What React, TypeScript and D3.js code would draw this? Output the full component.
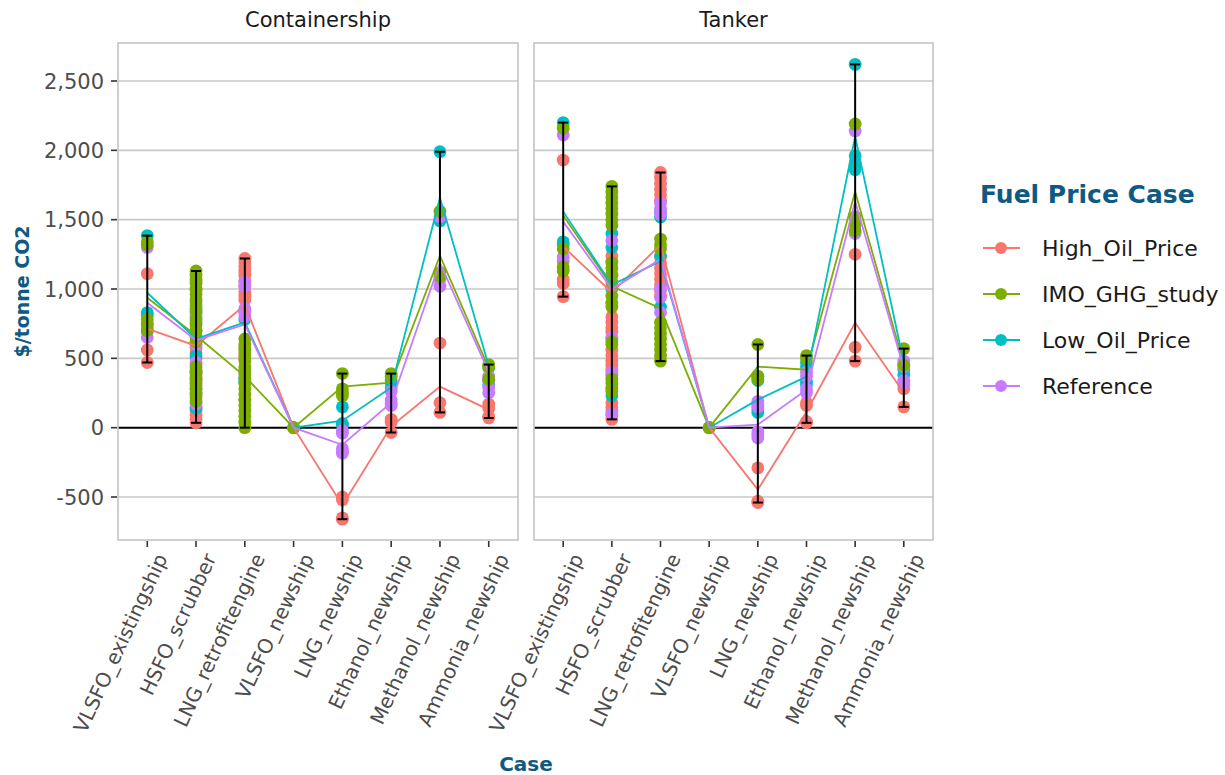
import * as d3 from 'd3';

const categories = ['VLSFO_existingship', 'HSFO_scrubber', 'LNG_retrofitengine', 'VLSFO_newship', 'LNG_newship', 'Ethanol_newship', 'Methanol_newship', 'Ammonia_newship'];
const priceCases = ['High_Oil_Price', 'IMO_GHG_study', 'Low_Oil_Price', 'Reference'];
const caseColors = ['#F8766D', '#7CAE00', '#00BFC4', '#C77CFF'];
const yTicks = [-500, 0, 500, 1000, 1500, 2000, 2500];

// Containership
const containerHighPoints = [
  [1110, 720, 560, 470],
  [1050, 990, 580, 540, 500, 460, 420, 380, 340, 300, 150, 120, 90, 60, 35],
  [1220, 1190, 1160, 1130, 1100, 1060, 1020, 980, 950, 920, 580, 540, 500],
  [0],
  [-500, -520, -650, -660],
  [60, 40, -35],
  [610, 180, 110],
  [170, 140, 80, 70],
];
const containerHighMean = [714, 590, 885, 0, -560, 10, 296, 130];

const containerImoPoints = [
  [1340, 1320, 780, 750, 700],
  [1130, 1100, 1070, 1040, 1000, 960, 920, 880, 840, 780, 740, 700, 660, 620, 440, 400, 360, 320, 280, 250, 220, 190],
  [640, 600, 560, 520, 480, 440, 400, 360, 320, 280, 240, 200, 160, 120, 80, 40, 0],
  [0],
  [390, 280, 250, 230],
  [390, 370],
  [1560, 1120, 1090],
  [455, 440, 350],
];
const containerImoMean = [937, 665, 370, 0, 296, 325, 1240, 430];

const containerLowPoints = [
  [1385, 830, 810],
  [860, 800, 700, 620, 520, 400, 280, 140],
  [840, 780, 350, 330],
  [0],
  [150, 30, 20],
  [340, 320, 280],
  [1990, 1490],
  [430, 340, 310],
];
const containerLowMean = [973, 640, 760, 0, 50, 290, 1658, 445];

const containerRefPoints = [
  [1300, 740, 690, 650],
  [900, 820, 760, 600, 470, 350, 240, 170],
  [1050, 1020, 860, 830, 800, 420, 380, 200],
  [0],
  [-20, -40, -150, -175, -185],
  [260, 200, 170, 160],
  [1520, 1070, 1020],
  [370, 340, 290, 250],
];
const containerRefMean = [901, 630, 745, 0, -123, 180, 1190, 400];

// Tanker
const tankerHighPoints = [
  [1930, 1070, 1040, 945],
  [1240, 1200, 800, 760, 720, 690, 560, 520, 480, 450, 420, 180, 150, 120, 90, 60],
  [1840, 1800, 1760, 1720, 1680, 1640, 1230, 1190, 1150, 1110, 1070, 1030, 990, 950],
  [0],
  [-290, -530, -540],
  [180, 160, 45, 35],
  [1250, 580, 480],
  [310, 280, 150],
];
const tankerHighMean = [1306, 975, 1320, 0, -447, 115, 757, 252];

const tankerImoPoints = [
  [2160, 1290, 1160, 1130],
  [1740, 1700, 1660, 1620, 1580, 1540, 1500, 1460, 1190, 1150, 1100, 1050, 950, 900, 870, 620, 600, 350, 320, 290, 260],
  [1360, 1320, 1290, 760, 720, 680, 640, 600, 560, 520, 480],
  [0],
  [600, 370, 350],
  [520, 500],
  [2190, 1520, 1480, 1420],
  [570, 450],
];
const tankerImoMean = [1530, 1020, 860, 0, 440, 418, 1703, 460];

const tankerLowPoints = [
  [2200, 1340, 1320],
  [1400, 1300, 1000, 640, 380, 230],
  [1560, 1520, 1240, 870],
  [0],
  [370, 340, 160, 130, 110],
  [470, 440, 330, 310],
  [2620, 1960, 1900, 1860],
  [460, 420, 380],
];
const tankerLowMean = [1558, 1030, 1200, 0, 202, 368, 2100, 470];

const tankerRefPoints = [
  [2110, 1230, 1200],
  [1350, 1100, 1020, 900, 650, 400, 280, 100],
  [1620, 1580, 1540, 1000, 940, 830],
  [0],
  [190, 150, -30, -50, -75],
  [400, 370, 280, 250],
  [2140, 1460, 1400],
  [480, 440, 340, 320],
];
const tankerRefMean = [1486, 1000, 1215, 0, 22, 274, 1631, 430];

const panels = [
  {
    title: 'Containership',
    x0: 118, x1: 518,
    points: [containerHighPoints, containerImoPoints, containerLowPoints, containerRefPoints],
    means: [containerHighMean, containerImoMean, containerLowMean, containerRefMean],
  },
  {
    title: 'Tanker',
    x0: 534, x1: 933,
    points: [tankerHighPoints, tankerImoPoints, tankerLowPoints, tankerRefPoints],
    means: [tankerHighMean, tankerImoMean, tankerLowMean, tankerRefMean],
  },
];

const top = 43;
const bottom = 540;
const font = 'DejaVu Sans, sans-serif';
const titleColor = '#0f5a82';
// draw order of the dots: IMO last so it sits on top
const dotOrder = [0, 2, 3, 1];

const y = d3.scaleLinear().domain([-810, 2774]).range([bottom, top]);
const fmt = (v: number) => d3.format(',')(v).replace('\u2212', '-');

const Panel = ({ p, first }) => {
  const x = d3.scalePoint().domain(categories).range([p.x0, p.x1]).padding(0.6);
  const line = d3.line<number>().x((_, i) => x(categories[i])!).y(d => y(d));
  return (
    <g>
      <text x={(p.x0 + p.x1) / 2} y={27} textAnchor="middle" fontSize={21} fill="#1a1a1a" fontFamily={font}>{p.title}</text>
      <rect x={p.x0} y={top} width={p.x1 - p.x0} height={bottom - top} fill="white" />
      {yTicks.filter(t => t !== 0).map(t => (
        <line key={t} x1={p.x0} x2={p.x1} y1={y(t)} y2={y(t)} stroke="#c9c9c9" strokeWidth={1.6} />
      ))}
      <line x1={p.x0} x2={p.x1} y1={y(0)} y2={y(0)} stroke="black" strokeWidth={2} />
      {dotOrder.map(ci => (
        <g key={ci} fill={caseColors[ci]}>
          {p.points[ci].map((vals, k) => vals.map((v, j) => (
            <circle key={k + '-' + j} cx={x(categories[k])} cy={y(v)} r={6.4} />
          )))}
        </g>
      ))}
      {p.means.map((m, ci) => (
        <path key={ci} d={line(m)!} fill="none" stroke={caseColors[ci]} strokeWidth={1.8} />
      ))}
      {categories.map((c, k) => {
        const all = p.points.flatMap(pts => pts[k]);
        const lo = d3.min(all)!;
        const hi = d3.max(all)!;
        if (lo === hi) return null;
        const cx = x(c)!;
        return (
          <g key={c} stroke="black" strokeWidth={2}>
            <line x1={cx} x2={cx} y1={y(lo)} y2={y(hi)} />
            <line x1={cx - 5} x2={cx + 5} y1={y(lo)} y2={y(lo)} />
            <line x1={cx - 5} x2={cx + 5} y1={y(hi)} y2={y(hi)} />
          </g>
        );
      })}
      <rect x={p.x0} y={top} width={p.x1 - p.x0} height={bottom - top} fill="none" stroke="#c4c4c4" strokeWidth={1.6} />
      {categories.map(c => {
        const cx = x(c)!;
        return (
          <g key={c}>
            <line x1={cx} x2={cx} y1={bottom + 1} y2={bottom + 7} stroke="#333" strokeWidth={1.6} />
            <text transform={`translate(${cx + 8},${bottom + 12}) rotate(-65)`} textAnchor="end" dy="0.7em"
              fontSize={20} fill="#4d4d4d" fontFamily={font}>{c}</text>
          </g>
        );
      })}
      {first && yTicks.map(t => (
        <g key={t}>
          <line x1={p.x0 - 7} x2={p.x0 - 1} y1={y(t)} y2={y(t)} stroke="#333" strokeWidth={1.6} />
          <text x={p.x0 - 14} y={y(t)} dy="0.36em" textAnchor="end" fontSize={21} fill="#4d4d4d" fontFamily={font}>{fmt(t)}</text>
        </g>
      ))}
    </g>
  );
};

export default function App() {
  return (
    <svg width={1225} height={775} style={{ position: 'absolute', left: 0, top: 0, background: 'white' }}>
      {panels.map((p, i) => <Panel key={p.title} p={p} first={i === 0} />)}
      <text transform={`translate(29,${(top + bottom) / 2}) rotate(-90)`} textAnchor="middle" fontSize={19} fontWeight="bold"
        fill={titleColor} fontFamily={font}>$/tonne CO2</text>
      <text x={526} y={771} textAnchor="middle" fontSize={20} fontWeight="bold" fill={titleColor} fontFamily={font}>Case</text>
      <text x={980} y={203} fontSize={25} fontWeight="bold" fill={titleColor} fontFamily={font}>Fuel Price Case</text>
      {priceCases.map((c, i) => {
        const ly = 248 + i * 46;
        return (
          <g key={c}>
            <line x1={983} x2={1020} y1={ly} y2={ly} stroke={caseColors[i]} strokeWidth={2} />
            <circle cx={1001} cy={ly} r={6} fill={caseColors[i]} />
            <text x={1042} y={ly} dy="0.36em" fontSize={22} fill="#1a1a1a" fontFamily={font}>{c}</text>
          </g>
        );
      })}
    </svg>
  );
}
